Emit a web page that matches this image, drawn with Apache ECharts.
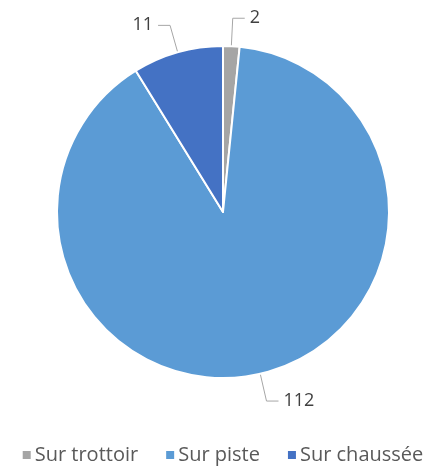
<!DOCTYPE html>
<html>
<head>
<meta charset="utf-8">
<script src="https://cdn.jsdelivr.net/npm/echarts@6/dist/echarts.min.js"></script>
<style>
  html, body { margin: 0; padding: 0; background: #fff; }
  #main { width: 444px; height: 470px; }
</style>
</head>
<body>
<div id="main"></div>
<script>
  // données
  var categories = ['Sur trottoir', 'Sur piste', 'Sur chaussée'];
  var values = [2, 112, 11];
  var colors = ['#A5A5A5', '#5B9BD5', '#4472C4'];

  var chart = echarts.init(document.getElementById('main'));

  chart.setOption({
    animation: false,
    color: colors,
    legend: {
      bottom: 0,
      left: 'center',
      itemWidth: 10,
      itemHeight: 10,
      itemGap: 26,
      icon: 'rect',
      textStyle: { fontFamily: 'Open Sans', fontSize: 20, color: '#595959', padding: [0, 0, 0, -2] },
      data: categories
    },
    series: [{
      type: 'pie',
      center: [223, 212],
      radius: 166,
      startAngle: 90,
      clockwise: true,
      avoidLabelOverlap: false,
      itemStyle: { borderColor: '#fff', borderWidth: 2 },
      label: {
        show: true,
        formatter: '{c}',
        fontFamily: 'Open Sans',
        fontSize: 18,
        color: '#404040'
      },
      labelLine: {
        show: true,
        length: 28,
        length2: 12,
        lineStyle: { color: '#a6a6a6', width: 1 }
      },
      data: categories.map(function (c, i) { return { name: c, value: values[i] }; })
    }]
  });
</script>
</body>
</html>
